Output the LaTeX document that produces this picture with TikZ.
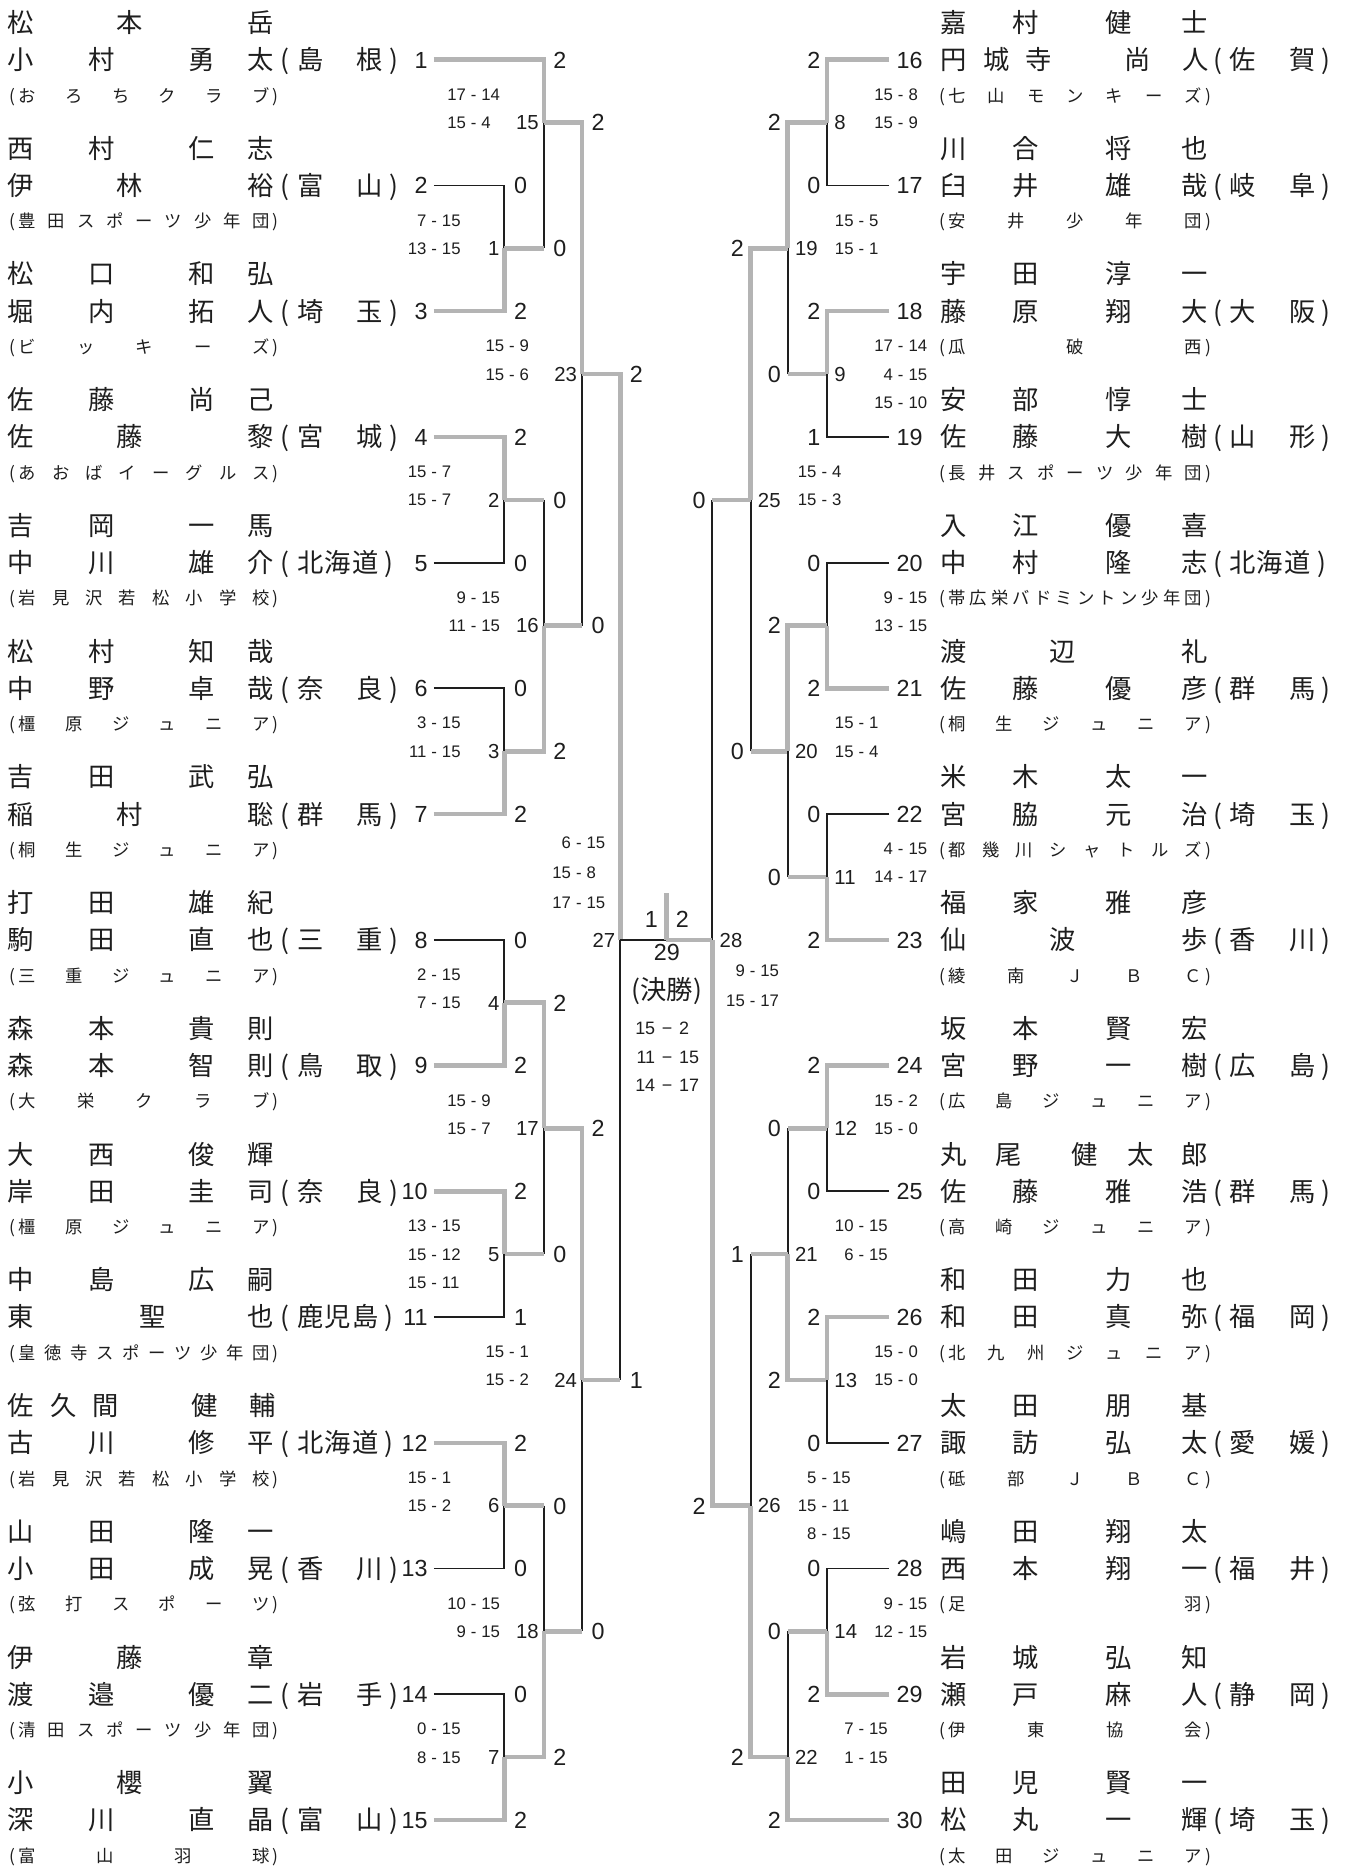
\documentclass[tikz,border=0pt]{standalone}
\usepackage{fontspec}
\setmainfont{Liberation Sans}
\newfontfamily\jpf{Noto Sans CJK JP}
\newfontfamily\latf{Liberation Sans}
\definecolor{winl}{HTML}{B4B4B4}
\definecolor{inkc}{HTML}{1E1E1E}
\makeatletter
\newcommand\clubtxt[2]{\hbox to #1{(\kern2.5pt\@tfor\spr@c:=#2\do{\spr@c\hfill}\unskip\kern2.5pt)}}
\makeatother
\newcommand\cpos[2]{\makebox[0pt][l]{\hspace*{#1pt}\makebox[0pt][c]{#2}}}
\newcommand\nTwoOne[3]{\cpos{0}{#1}\cpos{91}{#2}\cpos{201}{#3}}
\newcommand\nOneTwo[3]{\cpos{0}{#1}\cpos{110}{#2}\cpos{201}{#3}}
\newcommand\nFourL[4]{\cpos{0}{#1}\cpos{68}{#2}\cpos{151}{#3}\cpos{201}{#4}}
\newcommand\nFourR[4]{\cpos{0}{#1}\cpos{60}{#2}\cpos{138}{#3}\cpos{201}{#4}}
\newcommand\nThreeTwo[5]{\cpos{0}{#1}\cpos{36}{#2}\cpos{71}{#3}\cpos{154}{#4}\cpos{202}{#5}}
\newcommand\nTwoThree[5]{\cpos{0}{#1}\cpos{46}{#2}\cpos{109}{#3}\cpos{156}{#4}\cpos{201}{#5}}
\newcommand\pTwo[2]{\cpos{0}{(}\cpos{21}{#1}\cpos{71}{#2}\cpos{91}{)}}
\newcommand\pThree[3]{\cpos{0}{(}\cpos{21}{#1}\cpos{44}{#2}\cpos{67}{#3}\cpos{87}{)}}
\newcommand\sco[2]{\makebox[16pt][r]{#1}\makebox[13pt]{-}\makebox[16pt][l]{#2}}
\newcommand\fsco[2]{\makebox[17pt][r]{#1}\makebox[20pt]{−}\makebox[17pt][l]{#2}}
\tikzset{
 wi/.style={draw=winl, line width=3.8pt},
 lo/.style={draw=inkc, line width=1.6pt},
 nm/.style={anchor=west, inner sep=0pt, text=inkc, font=\jpf\fontsize{22}{22}\selectfont, text height=18.7pt, text depth=2.2pt},
 cl/.style={anchor=west, inner sep=0pt, text=inkc, font=\jpf\fontsize{14.5}{15}\selectfont, text height=12.3pt, text depth=1.5pt},
 num/.style={inner sep=0pt, text=inkc, font=\latf\fontsize{19.5}{20}\selectfont, text height=14pt, text depth=0pt},
 gw/.style={num, anchor=center},
 ml/.style={inner sep=0pt, text=inkc, font=\latf\fontsize{17}{17}\selectfont, text height=12.2pt, text depth=0pt},
 sc/.style={inner sep=0pt, text=inkc, font=\latf\fontsize{14}{14}\selectfont, text height=10pt, text depth=0pt},
 fs/.style={inner sep=0pt, text=inkc, font=\latf\fontsize{15}{15}\selectfont, text height=10.8pt, text depth=0pt, anchor=west},
}
\newcommand\LEntry[6]{%
 \node[nm] (L#1a) at (16.7,#2-0.59) {#3};
 \node[nm] (L#1b) at (16.7,#2) {#4};
 \node[nm] (L#1p) at (238,#2) {#5};
 \node[num, anchor=east] (L#1n) at (358,#2) {#1};
 \node[cl] (L#1c) at (8,#2+0.57) {\clubtxt{225pt}{#6}};
 \coordinate (L#1e) at (363,#2);}
\newcommand\REntry[6]{%
 \node[nm] (R#1a) at (797.5,#2-0.59) {#3};
 \node[nm] (R#1b) at (797.5,#2) {#4};
 \node[nm] (R#1p) at (1018,#2) {#5};
 \node[num, anchor=west] (R#1n) at (750,#2) {#1};
 \node[cl] (R#1c) at (786,#2+0.57) {\clubtxt{227pt}{#6}};
 \coordinate (R#1e) at (744,#2);}
\newcommand\LMatch[7]{%
 \coordinate (M#1) at (#2,#3);
 \node[ml, anchor=east] (ML#1) at (#2-4,#3) {#1};
 \node[gw] (G#1a) at (#2+13.5,#4) {#5};
 \node[gw] (G#1b) at (#2+13.5,#6) {#7};}
\newcommand\RMatch[7]{%
 \coordinate (M#1) at (#2,#3);
 \node[ml, anchor=west] (ML#1) at (#2+6,#3) {#1};
 \node[gw] (G#1a) at (#2-11,#4) {#5};
 \node[gw] (G#1b) at (#2-11,#6) {#7};}
\newcommand\LSS[7]{%
 \node[sc, anchor=east] (S#1a) at (#2-36,#3-0.45) {\sco{#4}{#5}};
 \node[sc, anchor=east] (S#1b) at (#2-36,#3) {\sco{#6}{#7}};}
\newcommand\LSSS[9]{%
 \node[sc, anchor=east] (S#1a) at (#2-36,#3-0.45) {\sco{#4}{#5}};
 \node[sc, anchor=east] (S#1b) at (#2-36,#3) {\sco{#6}{#7}};
 \node[sc, anchor=east] (S#1c) at (#2-36,#3+0.45) {\sco{#8}{#9}};}
\newcommand\RSS[7]{%
 \node[sc, anchor=west] (S#1a) at (#2+39,#3-0.45) {\sco{#4}{#5}};
 \node[sc, anchor=west] (S#1b) at (#2+39,#3) {\sco{#6}{#7}};}
\newcommand\RSSS[9]{%
 \node[sc, anchor=west] (S#1a) at (#2+39,#3-0.45) {\sco{#4}{#5}};
 \node[sc, anchor=west] (S#1b) at (#2+39,#3) {\sco{#6}{#7}};
 \node[sc, anchor=west] (S#1c) at (#2+39,#3+0.45) {\sco{#8}{#9}};}
\newcommand\winto[2]{\draw[wi] (#1) -| (#2);}
\newcommand\lossto[2]{\draw[lo] (#1-|#2) -- (#2); \draw[wi] (#1) -- (#1-|#2);}
\begin{document}
\begin{tikzpicture}[x=1pt,y=-52.6pt]
\fill[white] (0,-0.9506) rectangle (1128,28.8593);
\useasboundingbox (0,-0.9506) rectangle (1128,28.8593);
% left entries
\LEntry{1}{0}{\nTwoOne{松}{本}{岳}}{\nFourL{小}{村}{勇}{太}}{\pTwo{島}{根}}{おろちクラブ}
\LEntry{2}{2}{\nFourL{西}{村}{仁}{志}}{\nTwoOne{伊}{林}{裕}}{\pTwo{富}{山}}{豊田スポーツ少年団}
\LEntry{3}{4}{\nFourL{松}{口}{和}{弘}}{\nFourL{堀}{内}{拓}{人}}{\pTwo{埼}{玉}}{ビッキーズ}
\LEntry{4}{6}{\nFourL{佐}{藤}{尚}{己}}{\nTwoOne{佐}{藤}{黎}}{\pTwo{宮}{城}}{あおばイーグルス}
\LEntry{5}{8}{\nFourL{吉}{岡}{一}{馬}}{\nFourL{中}{川}{雄}{介}}{\pThree{北}{海}{道}}{岩見沢若松小学校}
\LEntry{6}{10}{\nFourL{松}{村}{知}{哉}}{\nFourL{中}{野}{卓}{哉}}{\pTwo{奈}{良}}{橿原ジュニア}
\LEntry{7}{12}{\nFourL{吉}{田}{武}{弘}}{\nTwoOne{稲}{村}{聡}}{\pTwo{群}{馬}}{桐生ジュニア}
\LEntry{8}{14}{\nFourL{打}{田}{雄}{紀}}{\nFourL{駒}{田}{直}{也}}{\pTwo{三}{重}}{三重ジュニア}
\LEntry{9}{16}{\nFourL{森}{本}{貴}{則}}{\nFourL{森}{本}{智}{則}}{\pTwo{鳥}{取}}{大栄クラブ}
\LEntry{10}{18}{\nFourL{大}{西}{俊}{輝}}{\nFourL{岸}{田}{圭}{司}}{\pTwo{奈}{良}}{橿原ジュニア}
\LEntry{11}{20}{\nFourL{中}{島}{広}{嗣}}{\nOneTwo{東}{聖}{也}}{\pThree{鹿}{児}{島}}{皇徳寺スポーツ少年団}
\LEntry{12}{22}{\nThreeTwo{佐}{久}{間}{健}{輔}}{\nFourL{古}{川}{修}{平}}{\pThree{北}{海}{道}}{岩見沢若松小学校}
\LEntry{13}{24}{\nFourL{山}{田}{隆}{一}}{\nFourL{小}{田}{成}{晃}}{\pTwo{香}{川}}{弦打スポーツ}
\LEntry{14}{26}{\nTwoOne{伊}{藤}{章}}{\nFourL{渡}{邉}{優}{二}}{\pTwo{岩}{手}}{清田スポーツ少年団}
\LEntry{15}{28}{\nTwoOne{小}{櫻}{翼}}{\nFourL{深}{川}{直}{晶}}{\pTwo{富}{山}}{富山羽球}
% right entries
\REntry{16}{0}{\nFourR{嘉}{村}{健}{士}}{\nThreeTwo{円}{城}{寺}{尚}{人}}{\pTwo{佐}{賀}}{七山モンキーズ}
\REntry{17}{2}{\nFourR{川}{合}{将}{也}}{\nFourR{臼}{井}{雄}{哉}}{\pTwo{岐}{阜}}{安井少年団}
\REntry{18}{4}{\nFourR{宇}{田}{淳}{一}}{\nFourR{藤}{原}{翔}{大}}{\pTwo{大}{阪}}{瓜破西}
\REntry{19}{6}{\nFourR{安}{部}{惇}{士}}{\nFourR{佐}{藤}{大}{樹}}{\pTwo{山}{形}}{長井スポーツ少年団}
\REntry{20}{8}{\nFourR{入}{江}{優}{喜}}{\nFourR{中}{村}{隆}{志}}{\pThree{北}{海}{道}}{帯広栄バドミントン少年団}
\REntry{21}{10}{\nTwoOne{渡}{辺}{礼}}{\nFourR{佐}{藤}{優}{彦}}{\pTwo{群}{馬}}{桐生ジュニア}
\REntry{22}{12}{\nFourR{米}{木}{太}{一}}{\nFourR{宮}{脇}{元}{治}}{\pTwo{埼}{玉}}{都幾川シャトルズ}
\REntry{23}{14}{\nFourR{福}{家}{雅}{彦}}{\nTwoOne{仙}{波}{歩}}{\pTwo{香}{川}}{綾南ＪＢＣ}
\REntry{24}{16}{\nFourR{坂}{本}{賢}{宏}}{\nFourR{宮}{野}{一}{樹}}{\pTwo{広}{島}}{広島ジュニア}
\REntry{25}{18}{\nTwoThree{丸}{尾}{健}{太}{郎}}{\nFourR{佐}{藤}{雅}{浩}}{\pTwo{群}{馬}}{高崎ジュニア}
\REntry{26}{20}{\nFourR{和}{田}{力}{也}}{\nFourR{和}{田}{真}{弥}}{\pTwo{福}{岡}}{北九州ジュニア}
\REntry{27}{22}{\nFourR{太}{田}{朋}{基}}{\nFourR{諏}{訪}{弘}{太}}{\pTwo{愛}{媛}}{砥部ＪＢＣ}
\REntry{28}{24}{\nFourR{嶋}{田}{翔}{太}}{\nFourR{西}{本}{翔}{一}}{\pTwo{福}{井}}{足羽}
\REntry{29}{26}{\nFourR{岩}{城}{弘}{知}}{\nFourR{瀬}{戸}{麻}{人}}{\pTwo{静}{岡}}{伊東協会}
\REntry{30}{28}{\nFourR{田}{児}{賢}{一}}{\nFourR{松}{丸}{一}{輝}}{\pTwo{埼}{玉}}{太田ジュニア}
% left matches
\LMatch{1}{422}{3}{2}{0}{4}{2}
\LMatch{15}{455}{1}{0}{2}{3}{0}
\LMatch{2}{422}{7}{6}{2}{8}{0}
\LMatch{16}{455}{9}{7}{0}{11}{2}
\LMatch{3}{422}{11}{10}{0}{12}{2}
\LMatch{23}{487}{5}{1}{2}{9}{0}
\LMatch{4}{422}{15}{14}{0}{16}{2}
\LMatch{17}{455}{17}{15}{2}{19}{0}
\LMatch{5}{422}{19}{18}{2}{20}{1}
\LMatch{24}{487}{21}{17}{2}{25}{0}
\LMatch{6}{422}{23}{22}{2}{24}{0}
\LMatch{18}{455}{25}{23}{0}{27}{2}
\LMatch{7}{422}{27}{26}{0}{28}{2}
\LMatch{27}{519}{14}{5}{2}{21}{1}
% right matches
\RMatch{8}{692}{1}{0}{2}{2}{0}
\RMatch{19}{659}{3}{1}{2}{5}{0}
\RMatch{9}{692}{5}{4}{2}{6}{1}
\RMatch{25}{628}{7}{3}{2}{11}{0}
\coordinate (M10) at (692,9);
\node[gw] (G10a) at (681,8) {0};
\node[gw] (G10b) at (681,10) {2};
\RMatch{20}{659}{11}{9}{2}{13}{0}
\RMatch{11}{692}{13}{12}{0}{14}{2}
\RMatch{28}{596}{14}{7}{0}{23}{2}
\RMatch{12}{692}{17}{16}{2}{18}{0}
\RMatch{21}{659}{19}{17}{0}{21}{2}
\RMatch{13}{692}{21}{20}{2}{22}{0}
\RMatch{26}{628}{23}{19}{1}{27}{2}
\RMatch{14}{692}{25}{24}{0}{26}{2}
\RMatch{22}{659}{27}{25}{0}{28}{2}
\coordinate (M29) at (557.5,14);
\coordinate (T29) at (557.5,13.26);
% left scores
\LSS{1}{422}{3}{7}{15}{13}{15}
\LSS{15}{455}{1}{17}{14}{15}{4}
\LSS{2}{422}{7}{15}{7}{15}{7}
\LSS{16}{455}{9}{9}{15}{11}{15}
\LSS{3}{422}{11}{3}{15}{11}{15}
\LSS{23}{487}{5}{15}{9}{15}{6}
\LSS{4}{422}{15}{2}{15}{7}{15}
\LSS{17}{455}{17}{15}{9}{15}{7}
\LSSS{5}{422}{19}{13}{15}{15}{12}{15}{11}
\LSS{24}{487}{21}{15}{1}{15}{2}
\LSS{6}{422}{23}{15}{1}{15}{2}
\LSS{18}{455}{25}{10}{15}{9}{15}
\LSS{7}{422}{27}{0}{15}{8}{15}
\node[sc, anchor=east] (S27a) at (507,12.45) {\sco{6}{15}};
\node[sc, anchor=east] (S27b) at (507,12.93) {\sco{15}{8}};
\node[sc, anchor=east] (S27c) at (507,13.40) {\sco{17}{15}};
% right scores
\RSS{8}{692}{1}{15}{8}{15}{9}
\RSS{19}{659}{3}{15}{5}{15}{1}
\RSSS{9}{692}{5}{17}{14}{4}{15}{15}{10}
\RSS{25}{628}{7}{15}{4}{15}{3}
\RSS{10}{692}{9}{9}{15}{13}{15}
\RSS{20}{659}{11}{15}{1}{15}{4}
\RSS{11}{692}{13}{4}{15}{14}{17}
\RSS{12}{692}{17}{15}{2}{15}{0}
\RSS{21}{659}{19}{10}{15}{6}{15}
\RSS{13}{692}{21}{15}{0}{15}{0}
\RSSS{26}{628}{23}{5}{15}{15}{11}{8}{15}
\RSS{14}{692}{25}{9}{15}{12}{15}
\RSS{22}{659}{27}{7}{15}{1}{15}
\node[sc, anchor=west] (S28a) at (607,14.49) {\sco{9}{15}};
\node[sc, anchor=west] (S28b) at (607,14.96) {\sco{15}{17}};
% final
\node[gw] (F1) at (545,13.67) {1};
\node[gw] (F2) at (571,13.67) {2};
\node[num, anchor=center] (F29) at (558,14.2) {29};
\node[nm, anchor=center] (FK) at (558,14.79) {(決勝)};
\node[fs] (FS1) at (531,15.40) {\fsco{15}{2}};
\node[fs] (FS2) at (531,15.86) {\fsco{11}{15}};
\node[fs] (FS3) at (531,16.31) {\fsco{14}{17}};
% left bracket lines
\draw[lo] (L2e) -| (M1); \draw[wi] (L3e) -| (M1);
\draw[wi] (L1e) -| (M15); \lossto{M1}{M15}
\draw[wi] (L4e) -| (M2); \draw[lo] (L5e) -| (M2);
\lossto{M2}{M16} \winto{M3}{M16}
\draw[lo] (L6e) -| (M3); \draw[wi] (L7e) -| (M3);
\winto{M15}{M23} \lossto{M16}{M23}
\draw[lo] (L8e) -| (M4); \draw[wi] (L9e) -| (M4);
\winto{M4}{M17} \lossto{M5}{M17}
\draw[wi] (L10e) -| (M5); \draw[lo] (L11e) -| (M5);
\winto{M17}{M24} \lossto{M18}{M24}
\draw[wi] (L12e) -| (M6); \draw[lo] (L13e) -| (M6);
\lossto{M6}{M18} \winto{M7}{M18}
\draw[lo] (L14e) -| (M7); \draw[wi] (L15e) -| (M7);
\winto{M23}{M27} \lossto{M24}{M27}
% right bracket lines
\draw[wi] (R16e) -| (M8); \draw[lo] (R17e) -| (M8);
\winto{M8}{M19} \lossto{M9}{M19}
\draw[wi] (R18e) -| (M9); \draw[lo] (R19e) -| (M9);
\winto{M19}{M25} \lossto{M20}{M25}
\draw[lo] (R20e) -| (M10); \draw[wi] (R21e) -| (M10);
\winto{M10}{M20} \lossto{M11}{M20}
\draw[lo] (R22e) -| (M11); \draw[wi] (R23e) -| (M11);
\lossto{M25}{M28} \winto{M26}{M28}
\draw[wi] (R24e) -| (M12); \draw[lo] (R25e) -| (M12);
\lossto{M12}{M21} \winto{M13}{M21}
\draw[wi] (R26e) -| (M13); \draw[lo] (R27e) -| (M13);
\lossto{M21}{M26} \winto{M22}{M26}
\draw[lo] (R28e) -| (M14); \draw[wi] (R29e) -| (M14);
\lossto{M14}{M22} \draw[wi] (R30e) -| (M22);
% final lines
\draw[lo] (M27) -- (M29);
\draw[wi] (M28) -- (M29);
\draw[wi] (M29) -- (T29);
\end{tikzpicture}
\end{document}
